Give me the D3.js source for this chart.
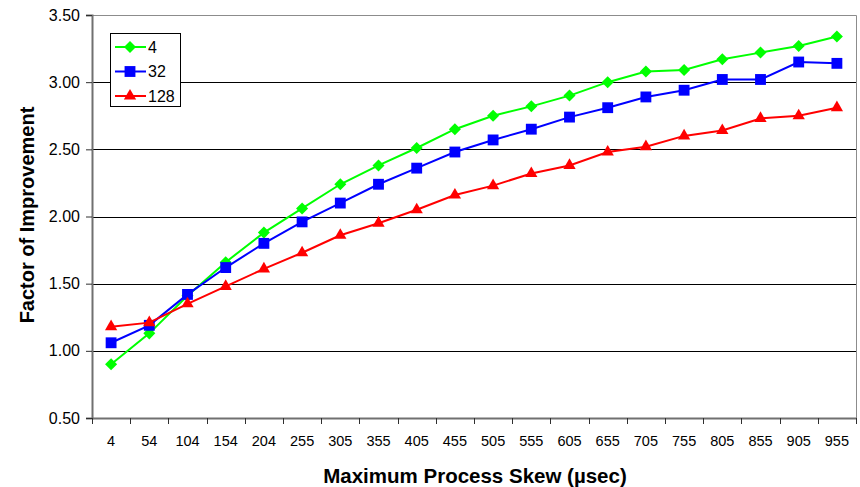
<!DOCTYPE html>
<html>
<head>
<meta charset="utf-8">
<script src="https://cdn.jsdelivr.net/npm/d3@7"></script>
<style>
  html, body { margin: 0; padding: 0; background: #fff; }
  svg { display: block; font-family: "Liberation Sans", Arial, sans-serif; }
</style>
</head>
<body>
<svg id="chart" width="860" height="487"></svg>
<script>
// Maximum process skew (µsec) on the x axis
const skews = ["4", "54", "104", "154", "204", "255", "305", "355", "405", "455",
               "505", "555", "605", "655", "705", "755", "805", "855", "905", "955"];

// Factor of improvement for each process count
const series4   = [0.90, 1.13, 1.41, 1.66, 1.88, 2.06, 2.24, 2.38, 2.51, 2.65,
                   2.75, 2.82, 2.90, 3.00, 3.08, 3.09, 3.17, 3.22, 3.27, 3.34];
const series32  = [1.06, 1.19, 1.42, 1.62, 1.80, 1.96, 2.10, 2.24, 2.36, 2.48,
                   2.57, 2.65, 2.74, 2.81, 2.89, 2.94, 3.02, 3.02, 3.15, 3.14];
const series128 = [1.18, 1.21, 1.35, 1.48, 1.61, 1.73, 1.86, 1.95, 2.05, 2.16,
                   2.23, 2.32, 2.38, 2.48, 2.52, 2.60, 2.64, 2.73, 2.75, 2.81];

const seriesNames = ["4", "32", "128"];
const yTicks = [0.5, 1.0, 1.5, 2.0, 2.5, 3.0, 3.5];

const seriesList = [
  { name: seriesNames[0], values: series4,   color: "#00ff00", symbol: d3.symbolDiamond2, size: 92 },
  { name: seriesNames[1], values: series32,  color: "#0000ff", symbol: d3.symbolSquare2,  size: 150 },
  { name: seriesNames[2], values: series128, color: "#ff0000", symbol: d3.symbolTriangle2, size: 108 }
];

const svg = d3.select("#chart");
const plot = { left: 92, right: 856, top: 15, bottom: 418 };

const x = d3.scaleBand().domain(skews).range([plot.left, plot.right]).padding(0);
const y = d3.scaleLinear().domain([0.5, 3.5]).range([plot.bottom, plot.top]);

// Horizontal gridlines
svg.append("g")
  .selectAll("line")
  .data(yTicks.filter(t => t > 0.5 && t < 3.5))
  .join("line")
  .attr("x1", plot.left).attr("x2", plot.right)
  .attr("y1", d => Math.round(y(d)) + 0.5).attr("y2", d => Math.round(y(d)) + 0.5)
  .attr("stroke", "#000").attr("stroke-width", 1);

// Plot frame on top and right
svg.append("path")
  .attr("d", `M${plot.left},${plot.top + 0.5}H${plot.right + 0.5}V${plot.bottom}`)
  .attr("fill", "none").attr("stroke", "#8c8c8c").attr("stroke-width", 1);

// Y axis
const yAxis = svg.append("g")
  .attr("transform", `translate(${plot.left},0)`)
  .call(d3.axisLeft(y).tickValues(yTicks).tickFormat(d3.format(".2f")).tickSize(6).tickPadding(6));
yAxis.select(".domain").attr("stroke", "#707070").attr("stroke-width", 2);
yAxis.selectAll(".tick line").attr("stroke", "#303030");
yAxis.selectAll(".tick text")
  .attr("font-size", 16).attr("fill", "#000")
  .attr("font-family", "'Liberation Sans', Arial, sans-serif");

// X axis: ticks sit on the category boundaries
const xAxis = svg.append("g")
  .attr("transform", `translate(0,${plot.bottom})`)
  .call(d3.axisBottom(x).tickSize(0).tickPadding(18));
xAxis.select(".domain").attr("stroke", "#707070").attr("stroke-width", 2);
xAxis.selectAll(".tick text")
  .attr("font-size", 14.5).attr("fill", "#000")
  .attr("font-family", "'Liberation Sans', Arial, sans-serif");
xAxis.append("g")
  .selectAll("line")
  .data(skews.map(s => x(s)).concat([plot.right]))
  .join("line")
  .attr("x1", d => Math.round(d) + 0.5).attr("x2", d => Math.round(d) + 0.5)
  .attr("y1", 0).attr("y2", 6)
  .attr("stroke", "#303030");

// Series: line then markers, drawn in legend order
const line = d3.line()
  .x((d, i) => x(skews[i]) + x.bandwidth() / 2)
  .y(d => y(d));

seriesList.forEach(s => {
  const g = svg.append("g");
  g.append("path")
    .datum(s.values)
    .attr("d", line)
    .attr("fill", "none")
    .attr("stroke", s.color)
    .attr("stroke-width", 2);
  g.selectAll("path.marker")
    .data(s.values)
    .join("path")
    .attr("class", "marker")
    .attr("transform", (d, i) => `translate(${x(skews[i]) + x.bandwidth() / 2},${y(d)})`)
    .attr("d", d3.symbol().type(s.symbol).size(s.size))
    .attr("fill", s.color)
    .attr("stroke", "none");
});

// Legend
const legend = svg.append("g");
legend.append("rect")
  .attr("x", 110.5).attr("y", 33.5).attr("width", 70).attr("height", 73)
  .attr("fill", "#fff").attr("stroke", "#000").attr("stroke-width", 1);
seriesList.forEach((s, i) => {
  const cy = 47 + i * 24.5;
  legend.append("line")
    .attr("x1", 115).attr("x2", 146).attr("y1", cy).attr("y2", cy)
    .attr("stroke", s.color).attr("stroke-width", 2);
  legend.append("path")
    .attr("transform", `translate(130,${cy})`)
    .attr("d", d3.symbol().type(s.symbol).size(s.size))
    .attr("fill", s.color);
  legend.append("text")
    .attr("x", 148).attr("y", cy + 5.5)
    .attr("font-size", 16).attr("fill", "#000")
    .text(s.name);
});

// Axis titles
svg.append("text")
  .attr("x", 475).attr("y", 483)
  .attr("text-anchor", "middle")
  .attr("font-size", 20.5).attr("font-weight", "bold").attr("fill", "#000")
  .text("Maximum Process Skew (µsec)");

svg.append("text")
  .attr("transform", "translate(34,215) rotate(-90)")
  .attr("text-anchor", "middle")
  .attr("font-size", 20).attr("font-weight", "bold").attr("fill", "#000")
  .text("Factor of Improvement");
</script>
</body>
</html>
